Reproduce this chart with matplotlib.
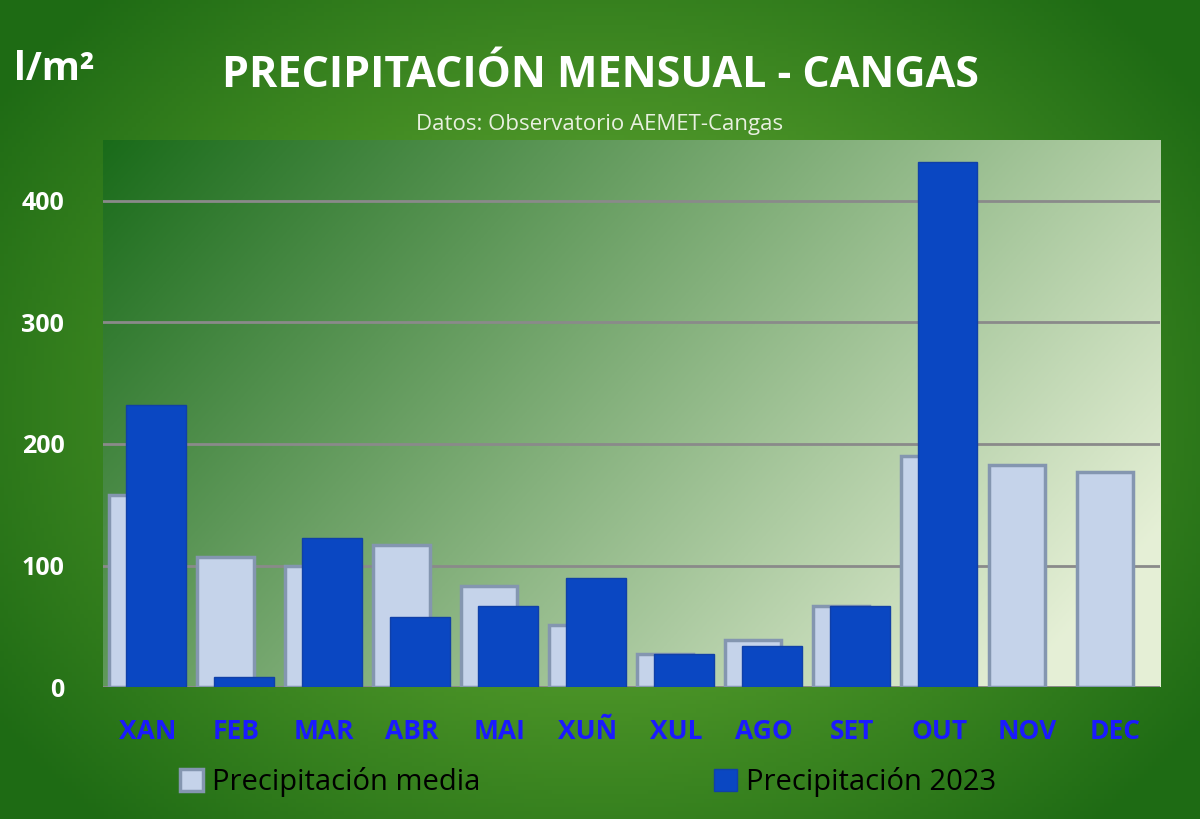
import matplotlib.pyplot as plt
import numpy as np

meses = ['XAN', 'FEB', 'MAR', 'ABR', 'MAI', 'XUÑ', 'XUL', 'AGO', 'SET', 'OUT', 'NOV', 'DEC']
media = [158, 107, 100, 117, 83, 51, 27, 39, 67, 190, 183, 177]
prec_2023 = [232, 8, 123, 58, 67, 90, 27, 34, 67, 432, np.nan, np.nan]

plt.rcParams['font.family'] = ['Open Sans', 'DejaVu Sans']

fig = plt.figure(figsize=(12, 8.19), dpi=100)

# outer background: green with darker edges
bg = fig.add_axes([0, 0, 1, 1], zorder=-10)
yy, xx = np.mgrid[0:1:200j, 0:1:300j]
r = np.sqrt(((xx - 0.5) / 0.6) ** 2 + ((yy - 0.5) / 0.7) ** 2)
t = np.clip(r, 0, 1)[..., None]
c_in = np.array([0.45, 0.72, 0.22])
c_out = np.array([0.12, 0.42, 0.08])
bg.imshow(c_in * (1 - t) + c_out * t, extent=[0, 1, 0, 1], aspect='auto')
bg.axis('off')

ax = fig.add_axes([0.086, 0.161, 0.881, 0.668])
xlo, xhi = -0.51, 11.51
# plot area gradient: dark top-left to pale bottom-right
g = np.clip((xx * 0.75 + (1 - yy) * 0.35), 0, 1)[..., None]
c_a = np.array([0.10, 0.42, 0.10])
c_b = np.array([0.90, 0.94, 0.84])
ax.imshow(c_a * (1 - g) + c_b * g, extent=[xlo, xhi, 450, 0], aspect='auto', zorder=0)

x = np.arange(len(meses))
ax.bar(x - 0.12, media, width=0.64, color='#c5d3ea', edgecolor='#8496b0', linewidth=2.5, zorder=2,
       label='Precipitación media')
ax.bar(x + 0.09, prec_2023, width=0.68, color='#0a47c2', edgecolor='#1040a8', linewidth=1, zorder=3,
       label='Precipitación 2023')

ax.set_xlim(xlo, xhi)
ax.set_ylim(0, 450)
ax.set_yticks([0, 100, 200, 300, 400])
ax.grid(axis='y', color='#8a8a8a', linewidth=2, zorder=1)
ax.set_axisbelow(True)
for s in ax.spines.values():
    s.set_visible(False)
ax.axhline(0, color='#8a8a8a', linewidth=2, zorder=1)
ax.tick_params(length=0)
ax.set_xticks(x)
ax.set_xticklabels(meses, color='#1a1aff', fontsize=19, fontweight='bold')
for lab in ax.get_yticklabels():
    lab.set_color('white')
    lab.set_fontsize(18)
    lab.set_fontweight('bold')
ax.tick_params(axis='x', pad=22)
ax.tick_params(axis='y', pad=28)

fig.text(0.5, 0.908, 'PRECIPITACIÓN MENSUAL - CANGAS', ha='center', va='center',
         color='white', fontsize=31, fontweight='bold')
fig.text(0.5, 0.848, 'Datos: Observatorio AEMET-Cangas', ha='center', va='center',
         color='#e8f0e0', fontsize=16)
fig.text(0.012, 0.915, 'l/m²', ha='left', va='center', color='white', fontsize=28, fontweight='bold')

leg = fig.legend(loc='center', bbox_to_anchor=(0.49, 0.045), ncol=2, frameon=False,
                 fontsize=21, handlelength=0.8, handleheight=0.8, columnspacing=8,
                 handletextpad=0.3)
for tx in leg.get_texts():
    tx.set_color('black')

fig.savefig('out.png', dpi=100)
